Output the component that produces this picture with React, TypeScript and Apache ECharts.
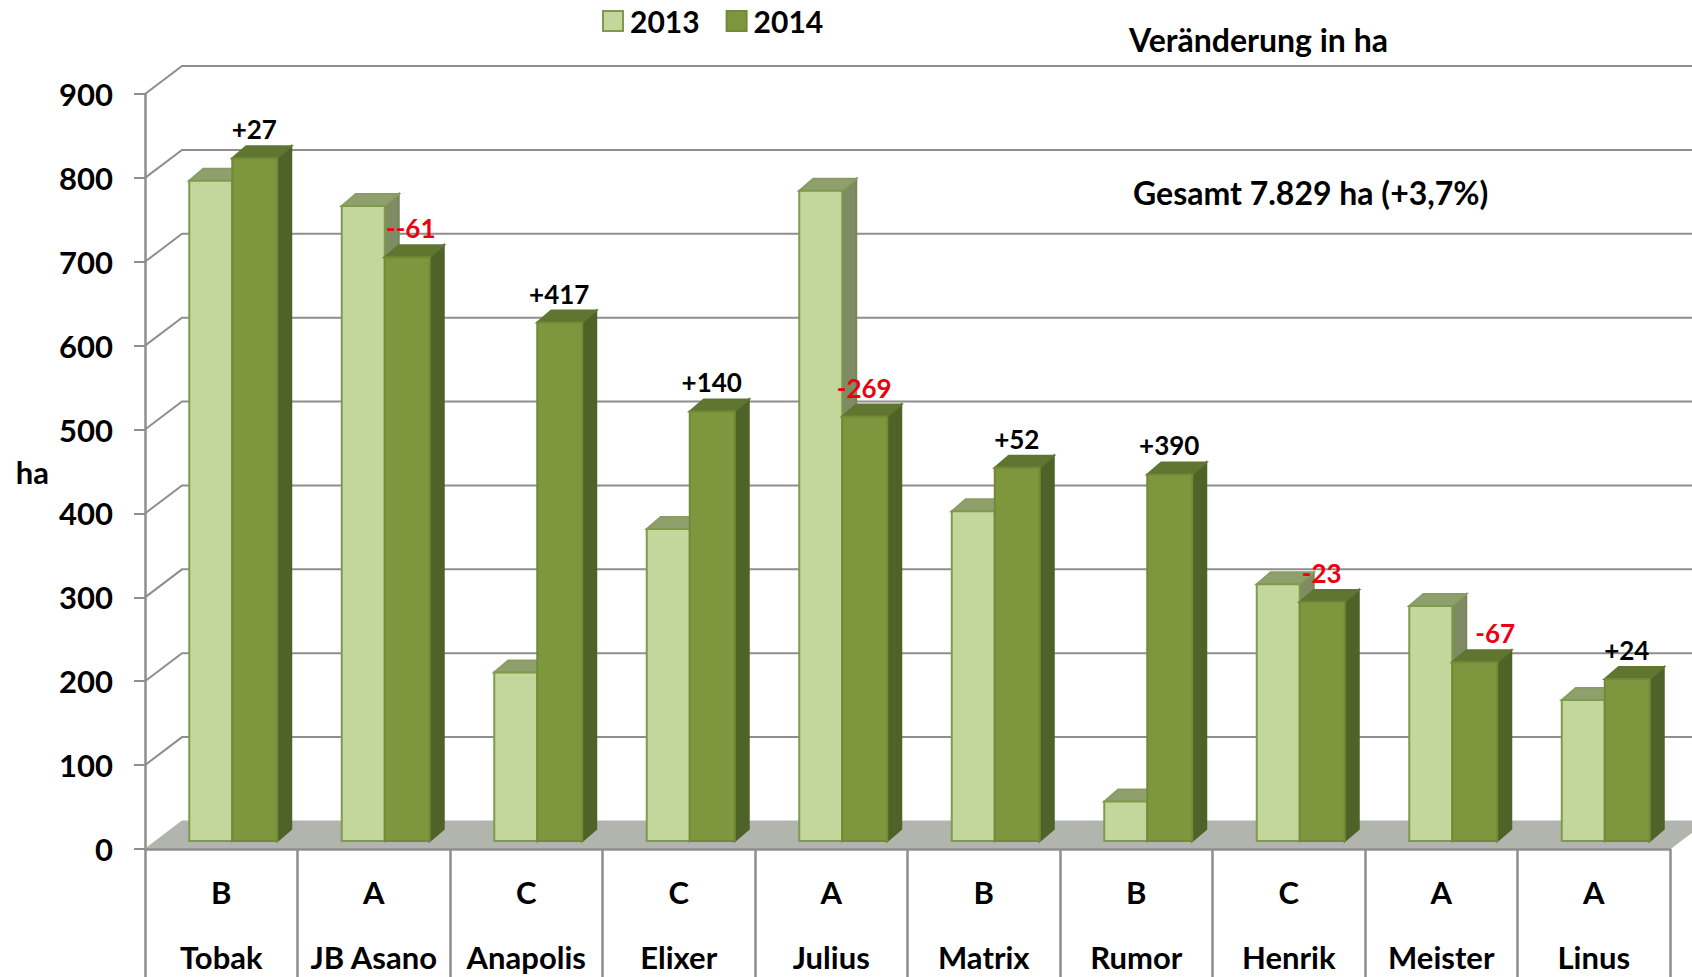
import React, { useEffect, useRef } from "react";
import * as echarts from "echarts";

const categories = ["Tobak", "JB Asano", "Anapolis", "Elixer", "Julius", "Matrix", "Rumor", "Henrik", "Meister", "Linus"];
const groups = ["B", "A", "C", "C", "A", "B", "B", "C", "A", "A"];
const values2013 = [787, 757, 201, 372, 775, 393, 47, 306, 280, 168];
const values2014 = [814, 696, 618, 512, 506, 445, 437, 285, 213, 193];
const changes = ["+27", "--61", "+417", "+140", "-269", "+52", "+390", "-23", "-67", "+24"];
const yTicks = [0, 100, 200, 300, 400, 500, 600, 700, 800, 900];

const FONT = "Lato";
const GREY = "#8e8e8e";
const DEPTH_X = 37, DEPTH_Y = 28;
const BAR_DX = 14, BAR_DY = 12, BASE_LIFT = 8;

function barRenderer(from: number, to: number, c: any) {
  return (_p: any, api: any) => {
    const [cx, y] = api.coord([api.value(0), api.value(1)]);
    const [, y0] = api.coord([api.value(0), 0]);
    const l = cx + from, r = cx + to, t = y - BASE_LIFT, b = y0 - BASE_LIFT;
    const poly = (points: number[][], fill: string, stroke: string) => ({
      type: "polygon",
      shape: { points },
      style: { fill, stroke, lineWidth: 2 },
    });
    return {
      type: "group",
      children: [
        poly([[r, t], [r + BAR_DX, t - BAR_DY], [r + BAR_DX, b - BAR_DY], [r, b]], c.side, c.sideStroke),
        poly([[l, t], [l + BAR_DX, t - BAR_DY], [r + BAR_DX, t - BAR_DY], [r, t]], c.top, c.topStroke),
        poly([[l, t], [r, t], [r, b], [l, b]], c.front, c.stroke),
      ],
    };
  };
}

const c2013 = { front: "#c3d69b", stroke: "#7f9a4c", top: "#8fa06c", topStroke: "#8a9c62", side: "#7f8b62", sideStroke: "#78875a" };
const c2014 = { front: "#7e963e", stroke: "#728a35", top: "#5f7530", topStroke: "#5f7530", side: "#4f6228", sideStroke: "#4f6228" };

export default function App() {
  const ref = useRef<HTMLDivElement>(null);
  useEffect(() => {
    document.body.style.margin = "0";
    const chart = echarts.init(ref.current!, undefined, { renderer: "svg" });
    chart.setOption({
      animation: false,
      backgroundColor: "#fff",
      textStyle: { fontFamily: FONT },
      grid: { left: 145, top: 94, width: 1525, height: 755, containLabel: false, outerBoundsMode: "none" },
      legend: {
        left: 597,
        top: 1,
        itemWidth: 20,
        itemHeight: 20,
        itemGap: 26,
        selectedMode: false,
        textStyle: { fontFamily: FONT, fontWeight: "bold", fontSize: 30, color: "#000", padding: [0, 0, 0, 2] },
        data: [
          { name: "2013", icon: "rect", itemStyle: { color: c2013.front, borderColor: c2013.stroke, borderWidth: 2 } },
          { name: "2014", icon: "rect", itemStyle: { color: c2014.front, borderColor: c2014.stroke, borderWidth: 2 } },
        ],
      },
      xAxis: {
        type: "category",
        data: categories,
        z: 3,
        axisLine: { lineStyle: { color: GREY, width: 2.5 } },
        axisTick: { show: true, alignWithLabel: false, length: 130, lineStyle: { color: GREY, width: 2.5 } },
        axisLabel: {
          margin: 10,
          interval: 0,
          fontFamily: FONT,
          formatter: (name: string) => `{g|${groups[categories.indexOf(name)]}}\n{n|${name}}`,
          rich: {
            g: { fontFamily: FONT, fontWeight: "bold", fontSize: 31, color: "#000", lineHeight: 65, height: 65 },
            n: { fontFamily: FONT, fontWeight: "bold", fontSize: 31, color: "#000", lineHeight: 65, height: 65 },
          },
        },
      },
      yAxis: {
        type: "value",
        min: 0,
        max: 900,
        interval: 100,
        name: "ha",
        nameLocation: "middle",
        nameRotate: 0,
        nameGap: 96,
        nameTextStyle: { fontFamily: FONT, fontWeight: "bold", fontSize: 31, color: "#000" },
        splitLine: { show: false },
        axisLine: { show: true, lineStyle: { color: GREY, width: 2.5 } },
        axisTick: { show: true, length: 11, lineStyle: { color: GREY, width: 2 } },
        axisLabel: { margin: 32, fontFamily: FONT, fontWeight: "bold", fontSize: 31, color: "#000" },
      },
      series: [
        {
          type: "custom",
          name: "wall",
          silent: true,
          z: 1,
          clip: false,
          data: yTicks.map((t) => [categories[0], t]),
          encode: { x: 0, y: 1 },
          renderItem: (p: any, api: any) => {
            const cs = p.coordSys;
            const y = api.coord([api.value(0), api.value(1)])[1];
            const x0 = cs.x, x1 = cs.x + cs.width;
            if (api.value(1) === 0) {
              return {
                type: "polygon",
                shape: { points: [[x0, y], [x1, y], [x1 + DEPTH_X, y - DEPTH_Y], [x0 + DEPTH_X, y - DEPTH_Y]] },
                style: { fill: "#b2b5ae", stroke: "#b2b5ae", lineWidth: 1 },
              };
            }
            return {
              type: "polyline",
              shape: { points: [[x0, y], [x0 + DEPTH_X, y - DEPTH_Y], [x1 + DEPTH_X, y - DEPTH_Y]] },
              style: { fill: "none", stroke: GREY, lineWidth: 2 },
            };
          },
        },
        {
          type: "custom",
          name: "2013",
          z: 3,
          clip: false,
          itemStyle: { color: c2013.front },
          data: values2013.map((v, i) => [categories[i], v]),
          encode: { x: 0, y: 1 },
          renderItem: barRenderer(-32, 11, c2013),
        },
        {
          type: "custom",
          name: "2014",
          z: 4,
          clip: false,
          itemStyle: { color: c2014.front },
          data: values2014.map((v, i) => [categories[i], v]),
          encode: { x: 0, y: 1 },
          renderItem: barRenderer(11, 56, c2014),
        },
        {
          type: "custom",
          name: "change",
          silent: true,
          z: 5,
          clip: false,
          data: values2014.map((v, i) => [categories[i], v, i]),
          encode: { x: 0, y: 1 },
          renderItem: (_p: any, api: any) => {
            const i = api.value(2);
            const [cx, y] = api.coord([api.value(0), api.value(1)]);
            const text = changes[i];
            const negative = text.startsWith("-");
            const name = categories[i];
            const shift = name === "Meister" ? 21 : name === "JB Asano" ? 4 : 0;
            return {
              type: "text",
              style: {
                x: cx + 33 + shift,
                y: y - 8 - 29,
                text,
                fill: negative ? "#ee0011" : "#000",
                font: `bold 26px ${FONT}`,
                textAlign: "center",
                textVerticalAlign: "middle",
              },
            };
          },
        },
      ],
      graphic: [
        { type: "text", left: 1129, top: 23, style: { text: "Veränderung in ha", font: `bold 32px ${FONT}`, fill: "#000" } },
        { type: "text", left: 1133, top: 176, style: { text: "Gesamt 7.829 ha (+3,7%)", font: `bold 32px ${FONT}`, fill: "#000" } },
      ],
    });
    return () => chart.dispose();
  }, []);
  return <div ref={ref} style={{ width: 1692, height: 977 }} />;
}
